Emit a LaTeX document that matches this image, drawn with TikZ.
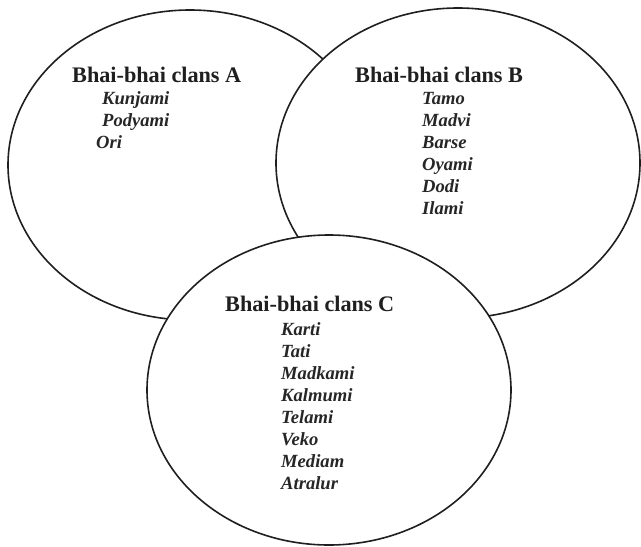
\documentclass[tikz,border=0pt]{standalone}
\usepackage{fontspec}
\setmainfont{Liberation Serif}
\usetikzlibrary{shapes.geometric}
\begin{document}
\begin{tikzpicture}[x=1pt,y=-1pt,
  setshape/.style={ellipse, draw=black!88, line width=1.6pt, fill=white,
    minimum width=364pt, minimum height=310pt, inner sep=0pt},
  settitle/.style={anchor=base west, inner sep=0pt, text=black!88,
    font=\fontsize{22.2}{26}\selectfont\bfseries},
  setitem/.style={anchor=base west, inner sep=0pt, text=black!85,
    font=\fontsize{18.6}{22}\selectfont\bfseries\itshape}]
\useasboundingbox (0,0) rectangle (641,547);
% sets (drawn in order so that later ones cover earlier ones)
\node[setshape] (setA) at (190,165) {};
\node[setshape] (setB) at (458,163) {};
\node[setshape] (setC) at (329,390) {};
% set A
\node[settitle] (tA) at (72,82) {Bhai-bhai clans A};
\node[setitem] (a1) at (102,104) {Kunjami};
\node[setitem] (a2) at (102,126) {Podyami};
\node[setitem] (a3) at (96,148) {Ori};
% set B
\node[settitle] (tB) at (355,82) {Bhai-bhai clans B};
\node[setitem] (b1) at (422,104) {Tamo};
\node[setitem] (b2) at (422,126) {Madvi};
\node[setitem] (b3) at (422,148) {Barse};
\node[setitem] (b4) at (422,170) {Oyami};
\node[setitem] (b5) at (422,192) {Dodi};
\node[setitem] (b6) at (422,214) {Ilami};
% set C
\node[settitle] (tC) at (225,311) {Bhai-bhai clans C};
\node[setitem] (c1) at (281,335) {Karti};
\node[setitem] (c2) at (281,357) {Tati};
\node[setitem] (c3) at (281,379) {Madkami};
\node[setitem] (c4) at (281,401) {Kalmumi};
\node[setitem] (c5) at (281,423) {Telami};
\node[setitem] (c6) at (281,445) {Veko};
\node[setitem] (c7) at (281,467) {Mediam};
\node[setitem] (c8) at (281,489) {Atralur};
\end{tikzpicture}
\end{document}
